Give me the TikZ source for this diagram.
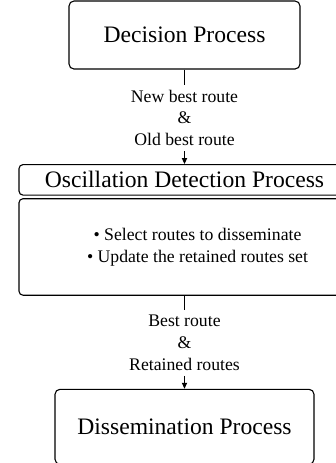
\documentclass[tikz,border=0pt]{standalone}
\usepackage{fontspec}
\setmainfont{Liberation Serif}
\usetikzlibrary{arrows.meta,positioning}

\begin{document}
\begin{tikzpicture}[>={Triangle[length=3pt,width=2.6pt]},line width=0.55pt,
  proc/.style={draw,rounded corners=2.5pt,align=center,
    font=\fontsize{11.8}{14}\selectfont},
  flow/.style={align=center,inner sep=2.5pt,
    font=\fontsize{8.85}{10.8}\selectfont}]
  \useasboundingbox (0,0) rectangle (168pt,-231.5pt);

  \node[proc, minimum width=115.5pt, minimum height=34pt] (decision)
    at (92.25pt,-17.5pt) {Decision Process};
  \node[flow] (newold) [below=7.5pt of decision]
    {New best route\\\&\\Old best route};
  \node[proc, rounded corners=2pt, minimum width=165.5pt, minimum height=15.25pt]
    (odphead) [below=47.25pt of decision] {Oscillation Detection Process};
  \node[proc, rounded corners=2pt, minimum width=165.5pt, minimum height=48.25pt]
    (odpbody) [below=1.25pt of odphead] {};
  \node[flow] (tasks) at ([xshift=6.5pt]odpbody.center)
    {\textbullet{} Select routes to disseminate\\
     \textbullet{} Update the retained routes set};
  \node[flow] (bestret) [below=7pt of odpbody]
    {Best route\\\&\\Retained routes};
  \node[proc, minimum width=129.5pt, minimum height=37.5pt] (dissem)
    [below=46.5pt of odpbody] {Dissemination Process};

  % connectors
  \draw (decision) -- (newold);
  \draw[->] (newold) -- (odphead);
  \draw (odpbody) -- (bestret);
  \draw[->] (bestret) -- (dissem);
\end{tikzpicture}
\end{document}
